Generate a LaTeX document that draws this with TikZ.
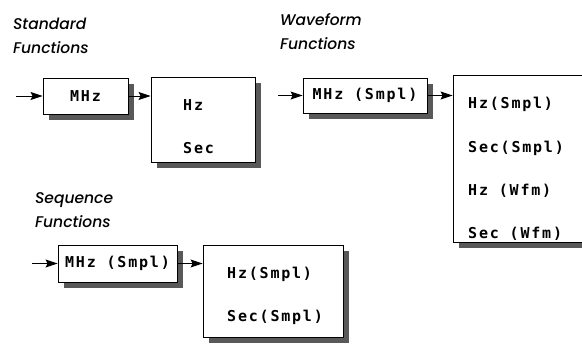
\documentclass[tikz,border=0pt]{standalone}
\usepackage{fontspec}
\newfontfamily\lcdfont{DejaVu Sans Mono}[LetterSpace=12]
\newfontfamily\headfont{Poppins}[BoldFont={Poppins Medium},BoldItalicFont={Poppins Medium Italic}]
\usetikzlibrary{arrows.meta,shadows}
\begin{document}
\begin{tikzpicture}[x=1pt,y=-1pt,
    box/.style={draw,line width=0.9pt,fill=white,inner sep=0pt,
      drop shadow={shadow xshift=6pt,shadow yshift=-6pt,fill=black!65,opacity=1}},
    lcd/.style={font=\lcdfont\bfseries\fontsize{15}{15}\selectfont,inner sep=0pt},
    head/.style={font=\headfont\bfseries\itshape\fontsize{15.5}{24}\selectfont,align=left,anchor=north west,inner sep=0pt},
    feed/.style={line width=0.9pt,-{Stealth[length=12pt,width=8pt,inset=2pt]}}]
\useasboundingbox (0,0) rectangle (582,344);
% headings
\node[head] (stdhead) at (13,18) {Standard\\Functions};
\node[head] (wfmhead) at (280,13) {Waveform\\Functions};
\node[head] (seqhead) at (35,192) {Sequence\\Functions};
% standard functions
\node[box,lcd,minimum width=85,minimum height=36] (stdin) at (85.5,96) {MHz};
\node[box,minimum width=104,minimum height=85] (stdout) at (203,119.5) {};
\node[lcd,anchor=west] (stdhz) at (183,105) {Hz};
\node[lcd,anchor=west] (stdsec) at (183,148) {Sec};
% waveform functions
\node[box,lcd,minimum width=124,minimum height=35] (wfmin) at (365,95.5) {MHz (Smpl)};
\node[box,minimum width=140,minimum height=167] (wfmout) at (523,158.5) {};
\node[lcd,anchor=west] (wfmhzs) at (468,104) {Hz(Smpl)};
\node[lcd,anchor=west] (wfmsecs) at (468,148) {Sec(Smpl)};
\node[lcd,anchor=west] (wfmhzw) at (468,191) {Hz (Wfm)};
\node[lcd,anchor=west] (wfmsecw) at (468,234) {Sec (Wfm)};
% sequence functions
\node[box,lcd,minimum width=119,minimum height=37] (seqin) at (117.5,263.5) {MHz (Smpl)};
\node[box,minimum width=140,minimum height=92] (seqout) at (273,291) {};
\node[lcd,anchor=west] (seqhz) at (227,274) {Hz(Smpl)};
\node[lcd,anchor=west] (seqsec) at (227,317) {Sec(Smpl)};
% feeds
\coordinate (stdfeed) at (16,96);
\coordinate (wfmfeed) at (278,95.5);
\coordinate (seqfeed) at (32,263.5);
\draw[feed] (stdfeed) -- (stdin.west);
\draw[feed] (stdin.east) -- (stdin.east -| stdout.west);
\draw[feed] (wfmfeed) -- (wfmin.west);
\draw[feed] (wfmin.east) -- (wfmin.east -| wfmout.west);
\draw[feed] (seqfeed) -- (seqin.west);
\draw[feed] (seqin.east) -- (seqin.east -| seqout.west);
\end{tikzpicture}
\end{document}
